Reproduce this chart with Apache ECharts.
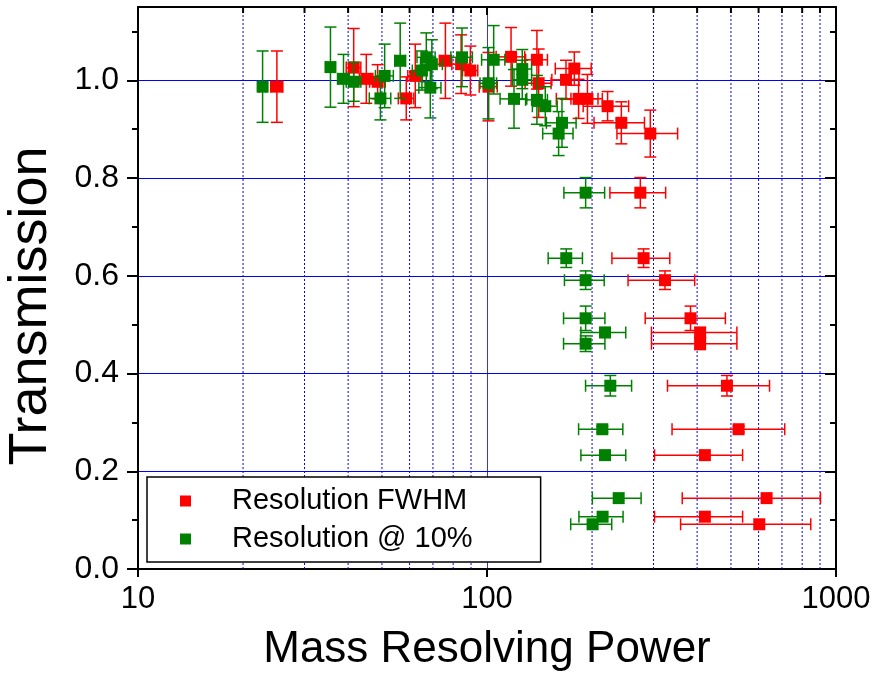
<!DOCTYPE html>
<html>
<head>
<meta charset="utf-8">
<script src="https://cdn.jsdelivr.net/npm/echarts@6/dist/echarts.min.js"></script>
<style>html,body{margin:0;padding:0;background:#fff}#c{width:877px;height:678px}</style>
</head>
<body>
<div id="c"></div>
<script>
// ---- data ----
const fwhmX    = [25.0, 41.5, 45.1, 48.6, 58.7, 62.3, 76.0, 84.3, 89.6, 101, 117.2, 139, 140.6, 168.4, 177.9, 183, 194, 221.6, 242.6, 293.7, 275, 281, 323.6, 383, 408, 408, 487, 526, 421, 632.6, 421, 602.7];
const fwhmY    = [0.987, 1.026, 1.003, 0.997, 0.963, 1.009, 1.040, 1.033, 1.020, 0.987, 1.048, 1.042, 0.994, 1.001, 1.024, 0.962, 0.962, 0.947, 0.913, 0.891, 0.770, 0.636, 0.591, 0.513, 0.484, 0.461, 0.375, 0.286, 0.233, 0.145, 0.107, 0.0915];
const fwhmXErr = [1, 2, 2, 2.5, 3, 3, 3, 5, 4.5, 6, 11, 10, 12, 15, 21, 25, 20, 33, 40, 58, 50, 53, 70, 99, 112, 112, 158, 187, 119, 270, 119, 244];
const fwhmYErr = [0.073, 0.08, 0.05, 0.035, 0.044, 0.065, 0.077, 0.06, 0.05, 0.07, 0.06, 0.06, 0.07, 0.04, 0.034, 0.04, 0.05, 0.03, 0.043, 0.048, 0.031, 0.019, 0.019, 0.025, 0.01, 0.012, 0.021, 0.006, 0, 0, 0, 0];

const tenX    = [22.75, 35.6, 38.8, 41.5, 49.5, 50.9, 56.4, 65.1, 67.0, 68.8, 69.5, 84.8, 101, 104.5, 119.5, 126.2, 126.2, 139, 146.9, 164, 160.4, 191.7, 168.7, 191.7, 191.7, 217.8, 191.7, 225.6, 214, 217.8, 238.4, 214.4, 200.7];
const tenY    = [0.987, 1.027, 1.003, 0.997, 0.963, 1.009, 1.040, 1.020, 1.047, 0.985, 1.033, 1.047, 0.994, 1.042, 0.962, 1.023, 1.001, 0.960, 0.947, 0.913, 0.891, 0.770, 0.636, 0.591, 0.513, 0.484, 0.461, 0.375, 0.286, 0.233, 0.145, 0.107, 0.0915];
const tenXErr = [0.5, 1, 1.5, 2, 3.5, 3, 2, 4, 4, 5, 5, 6, 5.5, 8, 10.5, 8, 8, 10, 12, 16, 16, 25.6, 19, 25, 26, 32, 26, 34, 31, 32, 38, 31, 27];
const tenYErr = [0.073, 0.082, 0.05, 0.04, 0.044, 0.065, 0.077, 0.04, 0.05, 0.062, 0.05, 0.06, 0.073, 0.07, 0.06, 0.04, 0.04, 0.05, 0.04, 0.05, 0.045, 0.031, 0.019, 0.019, 0.025, 0.01, 0.016, 0.021, 0.006, 0, 0, 0, 0];

const seriesNames = ['Resolution FWHM', 'Resolution @ 10%'];
const seriesColors = ['#ff0000', '#008000'];
const xTitle = 'Mass Resolving Power';
const yTitle = 'Transmission';
const xMin = 10, xMax = 1000;
const yMin = 0, yMax = 1.15;
const yMajorTicks = [0, 0.2, 0.4, 0.6, 0.8, 1.0];
const yMinorTicks = [0.1, 0.3, 0.5, 0.7, 0.9, 1.1];
const xMinorTicks = [20, 30, 40, 50, 60, 70, 80, 90, 200, 300, 400, 500, 600, 700, 800, 900];

// ---- build ----
const FONT = 'Liberation Sans';
function zip4(a, b, c, d) { return a.map((v, i) => [v, b[i], c[i], d[i]]); }

function errRender(params, api) {
  const x = api.value(0), y = api.value(1), xe = api.value(2), ye = api.value(3);
  const color = api.visual('color');
  const st = { stroke: color, lineWidth: 1.5 };
  const cap = 6;
  const ch = [];
  if (xe > 0) {
    const a = api.coord([x - xe, y]), b = api.coord([x + xe, y]);
    ch.push({ type: 'line', shape: { x1: a[0], y1: a[1], x2: b[0], y2: b[1] }, style: st });
    ch.push({ type: 'line', shape: { x1: a[0], y1: a[1] - cap, x2: a[0], y2: a[1] + cap }, style: st });
    ch.push({ type: 'line', shape: { x1: b[0], y1: b[1] - cap, x2: b[0], y2: b[1] + cap }, style: st });
  }
  if (ye > 0) {
    const a = api.coord([x, y - ye]), b = api.coord([x, y + ye]);
    ch.push({ type: 'line', shape: { x1: a[0], y1: a[1], x2: b[0], y2: b[1] }, style: st });
    ch.push({ type: 'line', shape: { x1: a[0] - cap, y1: a[1], x2: a[0] + cap, y2: a[1] }, style: st });
    ch.push({ type: 'line', shape: { x1: b[0] - cap, y1: b[1], x2: b[0] + cap, y2: b[1] }, style: st });
  }
  return { type: 'group', children: ch };
}

function gridRender(params, api) {
  const v = api.value(0);
  const p0 = api.coord([v, yMin]), p1 = api.coord([v, yMax]);
  return { type: 'group', children: [
    { type: 'line', shape: { x1: p0[0], y1: p0[1], x2: p1[0], y2: p1[1] }, style: { stroke: '#0000ff', lineWidth: 1, lineDash: [2, 2] } },
    { type: 'line', shape: { x1: p1[0], y1: p1[1], x2: p1[0], y2: p1[1] + 6 }, style: { stroke: '#000', lineWidth: 2 } }
  ]};
}

const axisBase = { min: yMin, max: yMax, interval: 0.2 };
const blackLine = { show: true, onZero: false, lineStyle: { color: '#000', width: 2 } };

const option = {
  animation: false,
  textStyle: { fontFamily: FONT },
  grid: { left: 138, right: 41, top: 7, bottom: 109, containLabel: false },
  graphic: [
    { type: 'text', x: 31, y: 306, rotation: Math.PI / 2, z: 10,
      style: { text: yTitle, font: '54px "Liberation Sans"', fill: '#000', align: 'center', verticalAlign: 'middle' } }
  ],
  legend: {
    data: seriesNames,
    orient: 'vertical', left: 147, top: 477,
    padding: [9, 68, 8, 33], itemGap: 8,
    itemWidth: 11, itemHeight: 11, icon: 'rect',
    backgroundColor: '#fff', borderColor: '#000', borderWidth: 1.5, borderRadius: 0,
    textStyle: { fontFamily: FONT, fontSize: 29, color: '#000', padding: [0, 0, 0, 36], lineHeight: 30 },
    selectedMode: false
  },
  xAxis: [
    { type: 'log', logBase: 10, min: xMin, max: xMax, position: 'bottom',
      name: xTitle, nameLocation: 'middle', nameGap: 59,
      nameTextStyle: { fontFamily: FONT, fontSize: 44, color: '#000' },
      axisLine: blackLine,
      axisTick: { show: true, inside: false, length: 8, lineStyle: { color: '#000', width: 2 } },
      axisLabel: { margin: 15, fontFamily: FONT, fontSize: 31, color: '#000', formatter: v => String(Math.round(v)) },
      splitLine: { show: true, lineStyle: { color: '#0000ff', width: 1, opacity: 0.8 } },
      minorTick: { show: false }, minorSplitLine: { show: false } },
    { type: 'log', logBase: 10, min: xMin, max: xMax, position: 'top',
      axisLine: blackLine,
      axisTick: { show: true, inside: true, length: 8, lineStyle: { color: '#000', width: 2 } },
      axisLabel: { show: false }, splitLine: { show: false }, minorSplitLine: { show: false } }
  ],
  yAxis: [
    Object.assign({ type: 'value', position: 'left',
      axisLine: blackLine,
      axisTick: { show: true, inside: false, length: 11, customValues: yMajorTicks, lineStyle: { color: '#000', width: 2 } },
      axisLabel: { margin: 19, fontFamily: FONT, fontSize: 32, color: '#000', customValues: yMajorTicks, formatter: v => v.toFixed(1) },
      splitLine: { show: true, lineStyle: { color: '#0000ff', width: 1 } } }, axisBase),
    Object.assign({ type: 'value', position: 'left',
      axisLine: { show: false },
      axisTick: { show: true, inside: false, length: 6, customValues: yMinorTicks, lineStyle: { color: '#000', width: 2 } },
      axisLabel: { show: false }, splitLine: { show: false } }, axisBase),
    Object.assign({ type: 'value', position: 'right',
      axisLine: blackLine,
      axisTick: { show: true, inside: true, length: 11, customValues: yMajorTicks, lineStyle: { color: '#000', width: 2 } },
      axisLabel: { show: false }, splitLine: { show: false } }, axisBase),
    Object.assign({ type: 'value', position: 'right',
      axisLine: { show: false },
      axisTick: { show: true, inside: true, length: 6, customValues: yMinorTicks, lineStyle: { color: '#000', width: 2 } },
      axisLabel: { show: false }, splitLine: { show: false } }, axisBase)
  ],
  series: [
    { name: 'minor-grid', type: 'custom', z: 1, silent: true, renderItem: gridRender,
      encode: { x: 0, y: 1 }, data: xMinorTicks.map(v => [v, yMin]) },
    { name: 'fwhm-err', type: 'custom', renderItem: errRender, itemStyle: { color: seriesColors[0] },
      encode: { x: 0, y: 1 }, data: zip4(fwhmX, fwhmY, fwhmXErr, fwhmYErr), z: 3 },
    { name: seriesNames[0], type: 'scatter', symbol: 'rect', symbolSize: 12,
      itemStyle: { color: seriesColors[0], opacity: 1 }, data: fwhmX.map((v, i) => [v, fwhmY[i]]), z: 4 },
    { name: 'ten-err', type: 'custom', renderItem: errRender, itemStyle: { color: seriesColors[1] },
      encode: { x: 0, y: 1 }, data: zip4(tenX, tenY, tenXErr, tenYErr), z: 5 },
    { name: seriesNames[1], type: 'scatter', symbol: 'rect', symbolSize: 12,
      itemStyle: { color: seriesColors[1], opacity: 1 }, data: tenX.map((v, i) => [v, tenY[i]]), z: 6 }
  ]
};

const chart = echarts.init(document.getElementById('c'), null, { renderer: 'canvas' });
chart.setOption(option);
</script>
</body>
</html>
